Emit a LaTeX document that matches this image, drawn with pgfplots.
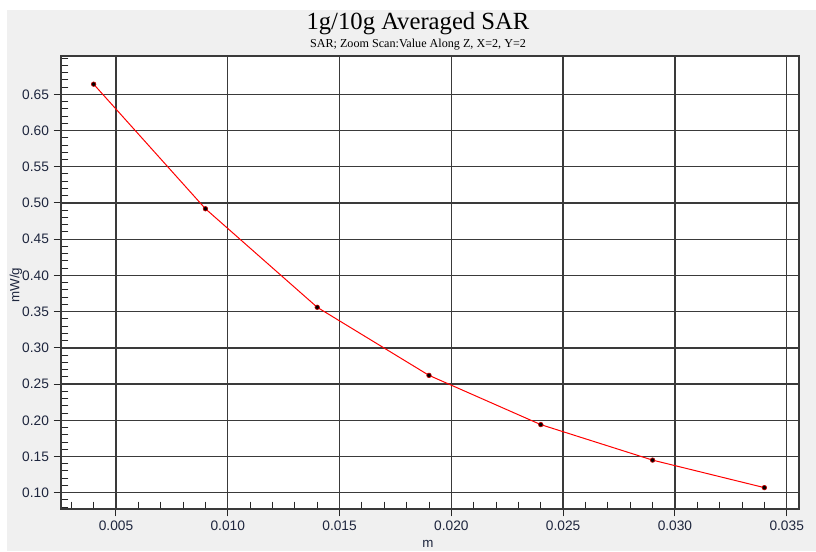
\documentclass[border=0pt]{standalone}
\usepackage{fontspec}
\setmainfont{Liberation Serif}
\newfontfamily\arialfont{Liberation Sans}
\usepackage{pgfplots}
\pgfplotsset{compat=1.18}
\definecolor{panel}{HTML}{F0F0F0}
\definecolor{ticktext}{RGB}{30,38,62}
\definecolor{gridc}{HTML}{3A3A3A}
\begin{document}
\begin{tikzpicture}
% page: 816x551 px at 0.75pt per px
\fill[white] (0,0) rectangle (612pt,413.25pt);
\fill[panel] (5.25pt,0) rectangle (612pt,405.75pt);
\begin{axis}[
    at={(45.75pt,31.5pt)}, anchor=south west,
    scale only axis, width=553.5pt, height=339.75pt,
    xmin=0.00254, xmax=0.03555,
    ymin=0.0775, ymax=0.7029,
    axis background/.style={fill=white},
    xtick={0.005,0.010,0.015,0.020,0.025,0.030,0.035},
    ytick={0.10,0.15,0.20,0.25,0.30,0.35,0.40,0.45,0.50,0.55,0.60,0.65},
    minor xtick={0.003,0.004,0.006,0.007,0.008,0.009,0.011,0.012,0.013,0.014,
                 0.016,0.017,0.018,0.019,0.021,0.022,0.023,0.024,
                 0.026,0.027,0.028,0.029,0.031,0.032,0.033,0.034},
    minor ytick={0.08,0.09,0.11,0.12,0.13,0.14,0.16,0.17,0.18,0.19,
                 0.21,0.22,0.23,0.24,0.26,0.27,0.28,0.29,0.31,0.32,0.33,0.34,
                 0.36,0.37,0.38,0.39,0.41,0.42,0.43,0.44,0.46,0.47,0.48,0.49,
                 0.51,0.52,0.53,0.54,0.56,0.57,0.58,0.59,0.61,0.62,0.63,0.64,
                 0.66,0.67,0.68,0.69,0.70},
    grid=major,
    major grid style={gridc, line width=1pt},
    axis line style={gridc, line width=1.1pt},
    tick align=outside,
    tick pos=left,
    major tick length=5.5pt,
    minor tick length=-5.5pt,
    tick style={black!85, line width=0.75pt},
    scaled x ticks=false, scaled y ticks=false,
    /pgf/number format/assume math mode=true,
    xticklabel style={/pgf/number format/.cd, fixed, fixed zerofill, precision=3},
    yticklabel style={/pgf/number format/.cd, fixed, fixed zerofill, precision=2},
    ticklabel style={font=\arialfont\fontsize{10.3}{12}\selectfont, text=ticktext},
  ]
  \addplot[red, line width=0.75pt, mark=*, mark size=1.7pt,
           mark options={fill=black, draw=red!75!black, line width=0.5pt}]
    coordinates {
      (0.004, 0.664)
      (0.009, 0.492)
      (0.014, 0.356)
      (0.019, 0.262)
      (0.024, 0.194)
      (0.029, 0.145)
      (0.034, 0.107)
    };
\end{axis}
\node[font=\fontsize{18.5}{20}\selectfont, inner sep=0pt] at (313.5pt,395.25pt) {1g/10g Averaged SAR};
\node[font=\fontsize{9.1}{11}\selectfont, inner sep=0pt] at (313.5pt,379.5pt) {SAR; Zoom Scan:Value Along Z, X=2, Y=2};
\node[font=\arialfont\fontsize{10}{12}\selectfont, text=ticktext, rotate=90, inner sep=0pt] at (12pt,199.5pt) {mW/g};
\node[font=\arialfont\fontsize{10}{12}\selectfont, text=ticktext, anchor=north, inner sep=0pt] at (321pt,8.5pt) {m};
\pgfresetboundingbox
\path (0,0) rectangle (612pt,413.25pt);
\end{tikzpicture}
\end{document}
